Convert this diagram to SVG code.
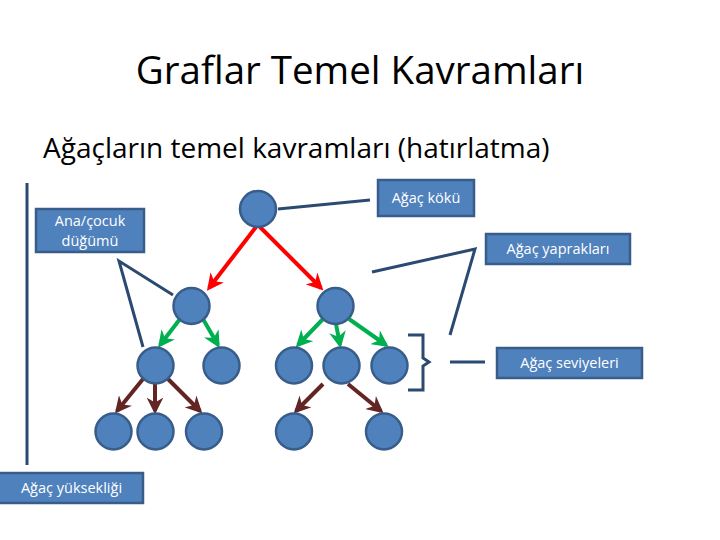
<svg xmlns="http://www.w3.org/2000/svg" width="720" height="540" viewBox="0 0 720 540">
<style>
.t{font-family:"Open Sans","Liberation Sans",sans-serif;fill:#000}
.n{fill:#4F81BD;stroke:#385D8A;stroke-width:2.5}
.b{fill:#4F81BD;stroke:#385D8A;stroke-width:2.5}
.bt{font-family:"Open Sans","Liberation Sans",sans-serif;font-size:14.5px;fill:#fff;text-anchor:middle}
.c{stroke:#2B4A72;stroke-width:3;fill:none}
.r{stroke:#FF0000;stroke-width:4;fill:none;marker-end:url(#ar)}
.g{stroke:#00B050;stroke-width:4;fill:none;marker-end:url(#ag)}
.d{stroke:#632523;stroke-width:4;fill:none;marker-end:url(#ad)}
</style>
<defs>
<marker id="ar" viewBox="0 0 10 10" refX="8" refY="5" markerWidth="4.2" markerHeight="4.2" orient="auto"><path d="M0,0 L10,5 L0,10 L3,5 Z" fill="#FF0000"/></marker>
<marker id="ag" viewBox="0 0 10 10" refX="8" refY="5" markerWidth="4.2" markerHeight="4.2" orient="auto"><path d="M0,0 L10,5 L0,10 L3,5 Z" fill="#00B050"/></marker>
<marker id="ad" viewBox="0 0 10 10" refX="8" refY="5" markerWidth="4.2" markerHeight="4.2" orient="auto"><path d="M0,0 L10,5 L0,10 L3,5 Z" fill="#632523"/></marker>
</defs>
<rect width="720" height="540" fill="#fff"/>
<text class="t" x="360" y="84" font-size="38.5" text-anchor="middle">Graflar Temel Kavramları</text>
<text class="t" x="43" y="158" font-size="28">Ağaçların temel kavramları (hatırlatma)</text>

<g id="connectors">
<line class="r" x1="256" y1="227" x2="209" y2="288"/>
<line class="r" x1="260" y1="227" x2="321" y2="288"/>
<line class="g" x1="180" y1="319" x2="160" y2="345"/>
<line class="g" x1="203" y1="319" x2="218" y2="345"/>
<line class="g" x1="323" y1="319" x2="298" y2="345"/>
<line class="g" x1="336" y1="324" x2="340" y2="345"/>
<line class="g" x1="349" y1="319" x2="386" y2="345"/>
<line class="d" x1="143" y1="379" x2="117" y2="411"/>
<line class="d" x1="155" y1="384" x2="155" y2="411"/>
<line class="d" x1="168" y1="379" x2="200" y2="411"/>
<line class="d" x1="323" y1="384" x2="296" y2="411"/>
<line class="d" x1="348" y1="384" x2="381" y2="411"/>
<line class="c" x1="278" y1="209" x2="370" y2="200"/>
<polyline class="c" points="173,295 119,261 143,347"/>
<polyline class="c" points="372,272 475,249 450,335"/>
<line class="c" x1="27" y1="183" x2="27" y2="465"/>
<path class="c" d="M408,335 H423 V358 L429,362 L423,366 V390 H408"/>
<line class="c" x1="450" y1="362" x2="485" y2="362"/>
</g>

<g id="root"><circle class="n" cx="258" cy="209" r="18"/></g>
<g id="n2a"><circle class="n" cx="191.5" cy="306" r="18"/></g>
<g id="n2b"><circle class="n" cx="335.5" cy="306" r="18"/></g>
<g id="n3a"><circle class="n" cx="155.5" cy="365.5" r="18"/></g>
<g id="n3b"><circle class="n" cx="221.5" cy="365.5" r="18"/></g>
<g id="n3c"><circle class="n" cx="294" cy="365.5" r="18"/></g>
<g id="n3d"><circle class="n" cx="341.5" cy="365.5" r="18"/></g>
<g id="n3e"><circle class="n" cx="389.5" cy="365.5" r="18"/></g>
<g id="n4a"><circle class="n" cx="113.5" cy="431.5" r="18"/></g>
<g id="n4b"><circle class="n" cx="155.5" cy="431.5" r="18"/></g>
<g id="n4c"><circle class="n" cx="204" cy="431.5" r="18"/></g>
<g id="n4d"><circle class="n" cx="294" cy="431.5" r="18"/></g>
<g id="n4e"><circle class="n" cx="384" cy="431.5" r="18"/></g>

<g id="lbl-anacocuk"><rect class="b" x="36" y="209" width="108" height="43"/><text class="bt" x="90" y="226">Ana/çocuk</text><text class="bt" x="90" y="246">düğümü</text></g>
<g id="lbl-kok"><rect class="b" x="378" y="180" width="96" height="36"/><text class="bt" x="426" y="203">Ağaç kökü</text></g>
<g id="lbl-yaprak"><rect class="b" x="486" y="234" width="144" height="30"/><text class="bt" x="558" y="254">Ağaç yaprakları</text></g>
<g id="lbl-seviye"><rect class="b" x="497" y="348" width="145" height="30"/><text class="bt" x="569.5" y="368">Ağaç seviyeleri</text></g>
<g id="lbl-yukseklik"><rect class="b" x="-2" y="473" width="145" height="30"/><text class="bt" x="71.5" y="493">Ağaç yüksekliği</text></g>
</svg>
